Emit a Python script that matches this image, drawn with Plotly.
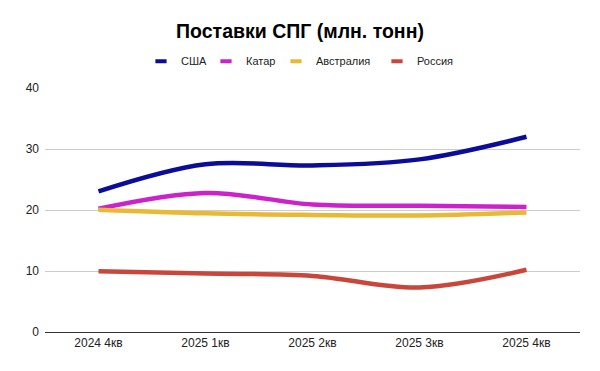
import plotly.graph_objects as go

categories = ["2024 4кв", "2025 1кв", "2025 2кв", "2025 3кв", "2025 4кв"]
usa = [23.05, 27.5, 27.3, 28.3, 32.0]
qatar = [20.2, 22.8, 20.9, 20.7, 20.5]
australia = [20.05, 19.45, 19.2, 19.1, 19.6]
russia = [9.95, 9.6, 9.2, 7.3, 10.2]
y_ticks = [0, 10, 20, 30, 40]

series = [
    ("США", usa, "#0c0c9a", 20),
    ("Катар", qatar, "#cc22cc", 25),
    ("Австралия", australia, "#e9b935", 56),
    ("Россия", russia, "#c9463a", 40),
]

fig = go.Figure()
for name, vals, color, lw in series:
    fig.add_trace(go.Scatter(
        x=categories, y=vals, mode="lines", name=name,
        line=dict(color=color, width=4.5, shape="spline", smoothing=1),
        showlegend=False, hoverinfo="skip",
    ))
for name, vals, color, lw in series:
    fig.add_trace(go.Scatter(
        x=[None], y=[None], mode="markers", name=name,
        marker=dict(symbol="line-ew-open", size=8, color=color,
                    line=dict(color=color, width=4)),
        showlegend=True, legendwidth=lw,
    ))

fig.update_layout(
    width=600, height=371,
    paper_bgcolor="white", plot_bgcolor="white",
    margin=dict(l=45, r=20, t=88, b=39),
    font=dict(family="Liberation Sans, Arial, sans-serif", color="#222222"),
    title=dict(text="<b>Поставки СПГ (млн. тонн)</b>", x=0.5, xanchor="center",
               y=0.916, yanchor="middle", font=dict(size=19.5, color="#000000")),
    legend=dict(orientation="h", x=0.1794, xanchor="left", y=1.11, yanchor="middle",
                font=dict(size=11, color="#222222"), itemwidth=30,
                bgcolor="rgba(0,0,0,0)"),
    showlegend=True,
)
fig.update_xaxes(
    type="category", categoryorder="array", categoryarray=categories,
    range=[-0.5, 4.5], showgrid=False, showline=True, linecolor="#333333", linewidth=1,
    ticks="", tickfont=dict(size=12, color="#222222"), zeroline=False,
)
fig.update_yaxes(
    range=[0, 40], tickvals=y_ticks, showgrid=True, gridcolor="#cccccc", gridwidth=1,
    zeroline=False, showline=False, ticks="", ticklabelstandoff=5,
    tickfont=dict(size=12, color="#222222"),
)

fig.write_html("out.html", config={"displayModeBar": False},
               post_script="document.body.style.margin='0';")
